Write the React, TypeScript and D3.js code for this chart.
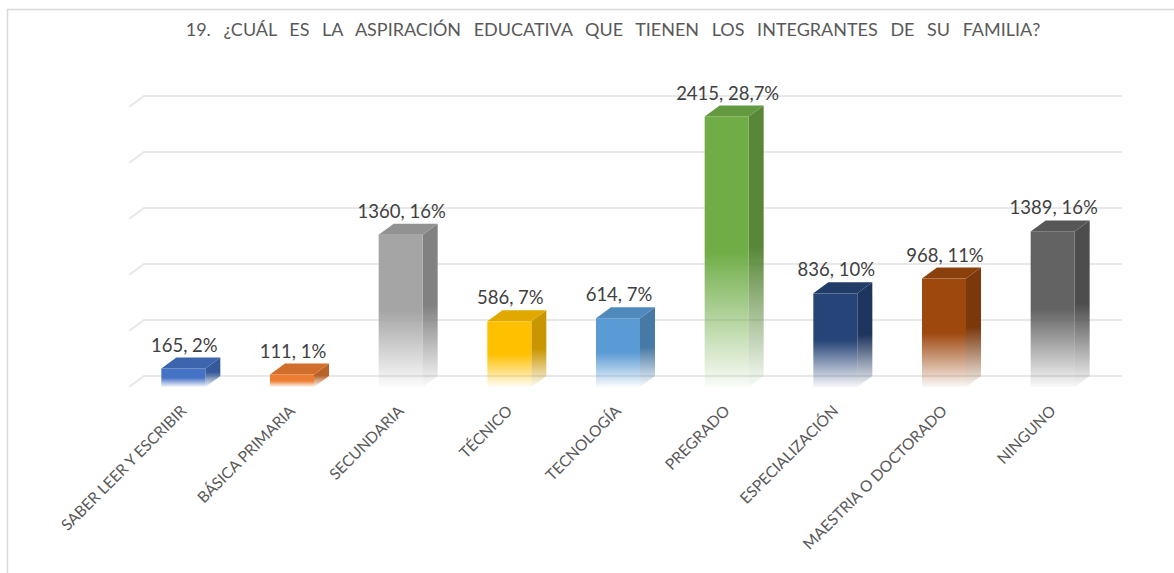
import React from "react";
import * as d3 from "d3";

const categories = [
  "SABER LEER Y ESCRIBIR",
  "BÁSICA PRIMARIA",
  "SECUNDARIA",
  "TÉCNICO",
  "TECNOLOGÍA",
  "PREGRADO",
  "ESPECIALIZACIÓN",
  "MAESTRIA O DOCTORADO",
  "NINGUNO",
];
const values = [165, 111, 1360, 586, 614, 2415, 836, 968, 1389];
const labels = ["165, 2%", "111, 1%", "1360, 16%", "586, 7%", "614, 7%", "2415, 28,7%", "836, 10%", "968, 11%", "1389, 16%"];
const colors = ["#4472C4", "#ED7D31", "#A5A5A5", "#FFC000", "#5B9BD5", "#70AD47", "#264478", "#9E480E", "#636363"];
const yTicks = [0, 500, 1000, 1500, 2000, 2500];
const title = "19. ¿CUÁL ES LA ASPIRACIÓN EDUCATIVA QUE TIENEN LOS INTEGRANTES DE SU FAMILIA?";

const W = 1174;
const H = 573;
const DX = 15;
const DY = 11;
const FONT = "Lato, 'Open Sans', sans-serif";

export default function App() {
  const x = d3
    .scaleBand<string>()
    .domain(categories)
    .range([129, 1107])
    .paddingInner(0.595)
    .paddingOuter(0.2975);
  const y = d3.scaleLinear().domain([0, 2500]).range([376, 96]);
  const bw = x.bandwidth();
  const floorBack = y(0);
  const floorFront = floorBack + DY;
  const x0 = x.range()[0];
  const x1 = x.range()[1];

  return (
    <svg
      width={W}
      height={H}
      style={{ position: "fixed", left: 0, top: 0, background: "#fff" }}
      fontFamily={FONT}
    >
      <defs>
        {colors.map((c, i) => (
          <React.Fragment key={i}>
            <linearGradient id={`gf${i}`} x1="0" y1="0" x2="0" y2="1">
              <stop offset="0" stopColor={c} stopOpacity={1} />
              <stop offset="0.5" stopColor={c} stopOpacity={1} />
              <stop offset="1" stopColor={c} stopOpacity={0.04} />
            </linearGradient>
            <linearGradient id={`gs${i}`} x1="0" y1="0" x2="0" y2="1">
              <stop offset="0" stopColor={d3.color(c)!.darker(0.7).formatHex()} stopOpacity={1} />
              <stop offset="0.5" stopColor={d3.color(c)!.darker(0.7).formatHex()} stopOpacity={1} />
              <stop offset="1" stopColor={d3.color(c)!.darker(0.7).formatHex()} stopOpacity={0.04} />
            </linearGradient>
          </React.Fragment>
        ))}
      </defs>
      <rect x={7.5} y={9.5} width={1300} height={700} fill="#fff" stroke="#d9d9d9" strokeWidth={1.5} />
      <text
        x={613}
        y={36}
        textAnchor="middle"
        fill="#595959"
        fontSize={18}
        wordSpacing={8}
      >
        {title}
      </text>
      {yTicks.map((t) => (
        <polyline
          key={t}
          points={`${x0},${y(t) + DY} ${x0 + DX},${y(t)} ${x1 + DX},${y(t)}`}
          fill="none"
          stroke="#e8e8e8"
          strokeWidth={2}
        />
      ))}
      {categories.map((c, i) => {
        const bx = x(c)!;
        const top = y(values[i]) + DY;
        const bot = floorFront;
        const topCol = d3.color(colors[i])!.darker(0.35).formatHex();
        return (
          <g key={c}>
            <polygon
              points={`${bx + bw},${top} ${bx + bw + DX},${top - DY} ${bx + bw + DX},${bot - DY} ${bx + bw},${bot}`}
              fill={`url(#gs${i})`}
            />
            <rect x={bx} y={top} width={bw} height={bot - top} fill={`url(#gf${i})`} />
            <polygon
              points={`${bx},${top} ${bx + DX},${top - DY} ${bx + bw + DX},${top - DY} ${bx + bw},${top}`}
              fill={topCol}
            />
            <text
              x={bx + bw / 2 + 1}
              y={y(values[i]) - 6}
              textAnchor="middle"
              fill="#404040"
              fontSize={18.5}
            >
              {labels[i]}
            </text>
            <text
              transform={`translate(${bx + bw / 2 + 4},${412}) rotate(-45)`}
              textAnchor="end"
              fill="#595959"
              fontSize={15.5}
            >
              {c}
            </text>
          </g>
        );
      })}
    </svg>
  );
}
